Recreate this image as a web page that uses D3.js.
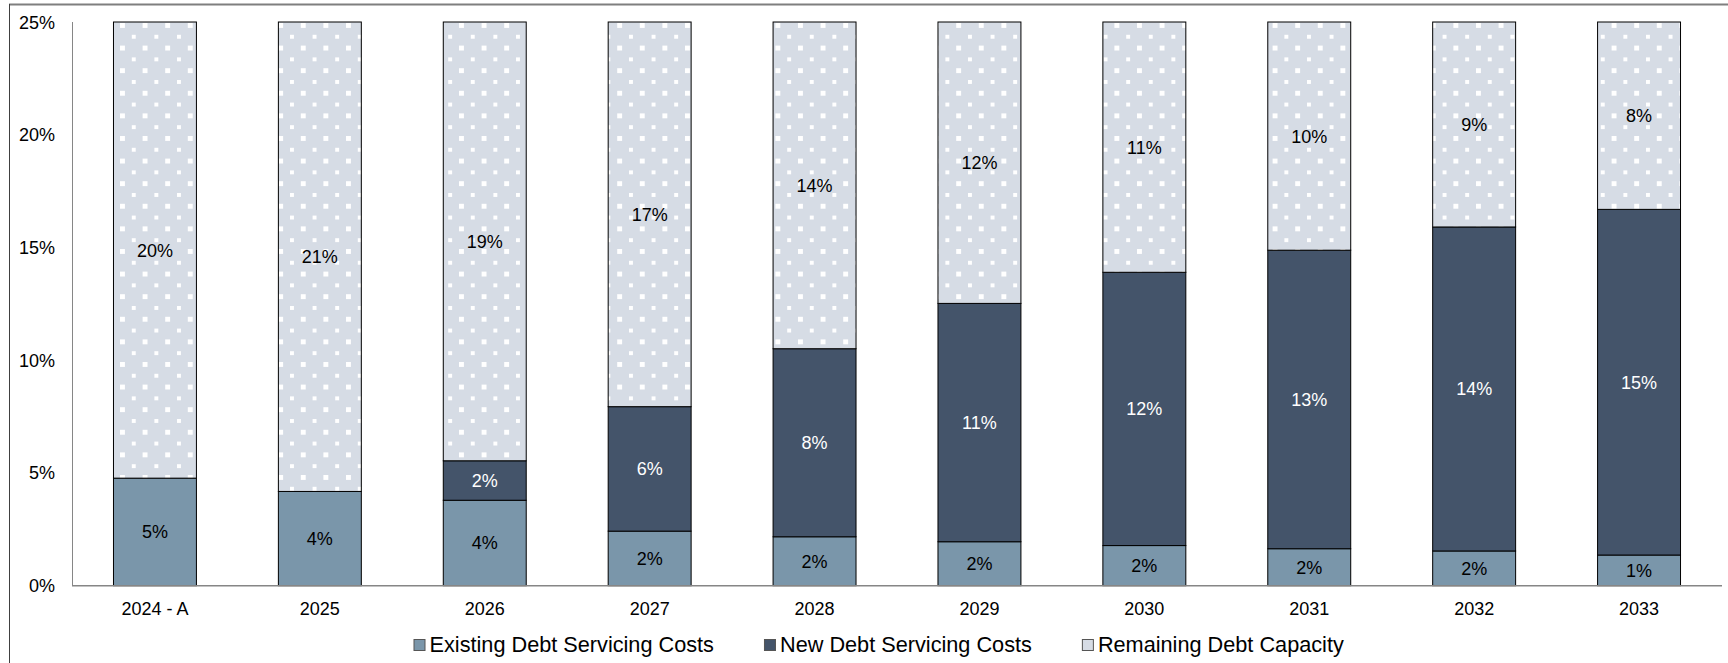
<!DOCTYPE html>
<html>
<head>
<meta charset="utf-8">
<script src="https://cdn.jsdelivr.net/npm/d3@7"></script>
<style>
  html, body { margin: 0; padding: 0; background: #fff; }
  svg { display: block; font-family: "Liberation Sans", Arial, sans-serif; }
</style>
</head>
<body>
<svg id="chart" width="1728" height="663"></svg>
<script>
// Debt servicing as a share of capacity, per year (percent)
const categories = ["2024 - A", "2025", "2026", "2027", "2028", "2029", "2030", "2031", "2032", "2033"];
const existingDebt = [4.77, 4.18, 3.79, 2.42, 2.17, 1.95, 1.78, 1.64, 1.54, 1.36];
const newDebt      = [0, 0, 1.75, 5.52, 8.34, 10.57, 12.12, 13.24, 14.37, 15.33];
const remaining    = [20.23, 20.82, 19.46, 17.06, 14.49, 12.48, 11.10, 10.12, 9.09, 8.31];
const yTicks = [0, 5, 10, 15, 20, 25];
const seriesNames = ["Existing Debt Servicing Costs", "New Debt Servicing Costs", "Remaining Debt Capacity"];

const svg = d3.select("#chart");
const W = 1728, H = 663;

// outer frame
svg.append("line").attr("x1", 9).attr("x2", W).attr("y1", 4.5).attr("y2", 4.5)
  .attr("stroke", "#7f7f7f").attr("stroke-width", 2);
svg.append("line").attr("x1", 9.5).attr("x2", 9.5).attr("y1", 4).attr("y2", H)
  .attr("stroke", "#404040").attr("stroke-width", 1);

// dotted fill for the remaining capacity
const defs = svg.append("defs");
const pat = defs.append("pattern").attr("id", "dots")
  .attr("patternUnits", "userSpaceOnUse")
  .attr("x", 120).attr("y", 23).attr("width", 22.6).attr("height", 22.6);
pat.append("rect").attr("width", 22.6).attr("height", 22.6).attr("fill", "#D6DCE5");
pat.append("rect").attr("x", 0).attr("y", 0).attr("width", 4.5).attr("height", 4.5)
  .attr("fill", "#fff").attr("shape-rendering", "crispEdges");
pat.append("rect").attr("x", 11.3).attr("y", 11.3).attr("width", 4.5).attr("height", 4.5)
  .attr("fill", "#fff").attr("shape-rendering", "crispEdges");

const x = d3.scaleBand().domain(categories).range([72.5, 1721.5])
  .paddingInner(0.497).paddingOuter(0.2485);
const y = d3.scaleLinear().domain([0, 25]).range([585.7, 22]);

const rows = categories.map((c, i) => ({
  cat: c, existing: existingDebt[i], newDebt: newDebt[i], remaining: remaining[i]
}));
const keys = ["existing", "newDebt", "remaining"];
const fills = { existing: "#7A96AA", newDebt: "#44546A", remaining: "url(#dots)" };
const labelColors = { existing: "#000", newDebt: "#fff", remaining: "#000" };
const stack = d3.stack().keys(keys)(rows);

// axis lines
svg.append("line").attr("x1", 72.5).attr("x2", 72.5).attr("y1", y(25)).attr("y2", y(0))
  .attr("stroke", "#868686").attr("stroke-width", 1);

const layers = svg.append("g").selectAll("g").data(stack).join("g")
  .attr("fill", d => fills[d.key]);

layers.selectAll("rect").data(d => d.filter(s => s[1] - s[0] > 0)).join("rect")
  .attr("x", d => x(d.data.cat))
  .attr("width", x.bandwidth())
  .attr("y", d => y(d[1]))
  .attr("height", d => y(d[0]) - y(d[1]))
  .attr("stroke", "#000")
  .attr("stroke-width", 1);

svg.append("line").attr("x1", 72).attr("x2", 1722).attr("y1", y(0)).attr("y2", y(0))
  .attr("stroke", "#868686").attr("stroke-width", 1.5);

// segment value labels
const labels = svg.append("g").attr("font-size", 18).attr("text-anchor", "middle");
stack.forEach(layer => {
  labels.append("g").attr("fill", labelColors[layer.key])
    .selectAll("text").data(layer.filter(s => s[1] - s[0] > 0)).join("text")
    .attr("x", d => x(d.data.cat) + x.bandwidth() / 2)
    .attr("y", d => (y(d[0]) + y(d[1])) / 2 + 6.5)
    .text(d => Math.round(d[1] - d[0]) + "%");
});

// y axis labels
svg.append("g").attr("font-size", 18).attr("text-anchor", "end").attr("fill", "#000")
  .selectAll("text").data(yTicks).join("text")
  .attr("x", 55).attr("y", d => y(d) + 6.5)
  .text(d => d + "%");

// x axis labels
svg.append("g").attr("font-size", 18).attr("text-anchor", "middle").attr("fill", "#000")
  .selectAll("text").data(categories).join("text")
  .attr("x", d => x(d) + x.bandwidth() / 2)
  .attr("y", 615)
  .text(d => d);

// legend: swatch + name, fixed gap between entries
const legendFills = ["#7A96AA", "#44546A", "#D6DCE5"];
const legend = svg.append("g").attr("font-size", 21.7);
let lx = 413.5;
seriesNames.forEach((name, i) => {
  const g = legend.append("g").attr("transform", `translate(${lx},0)`);
  g.append("rect").attr("x", 0.5).attr("y", 639.5).attr("width", 11).attr("height", 11)
    .attr("fill", legendFills[i]).attr("stroke", "#555").attr("stroke-width", 1);
  const t = g.append("text").attr("x", 16).attr("y", 651.5).attr("fill", "#000").text(name);
  lx += 16 + t.node().getComputedTextLength() + 50;
});
</script>
</body>
</html>
